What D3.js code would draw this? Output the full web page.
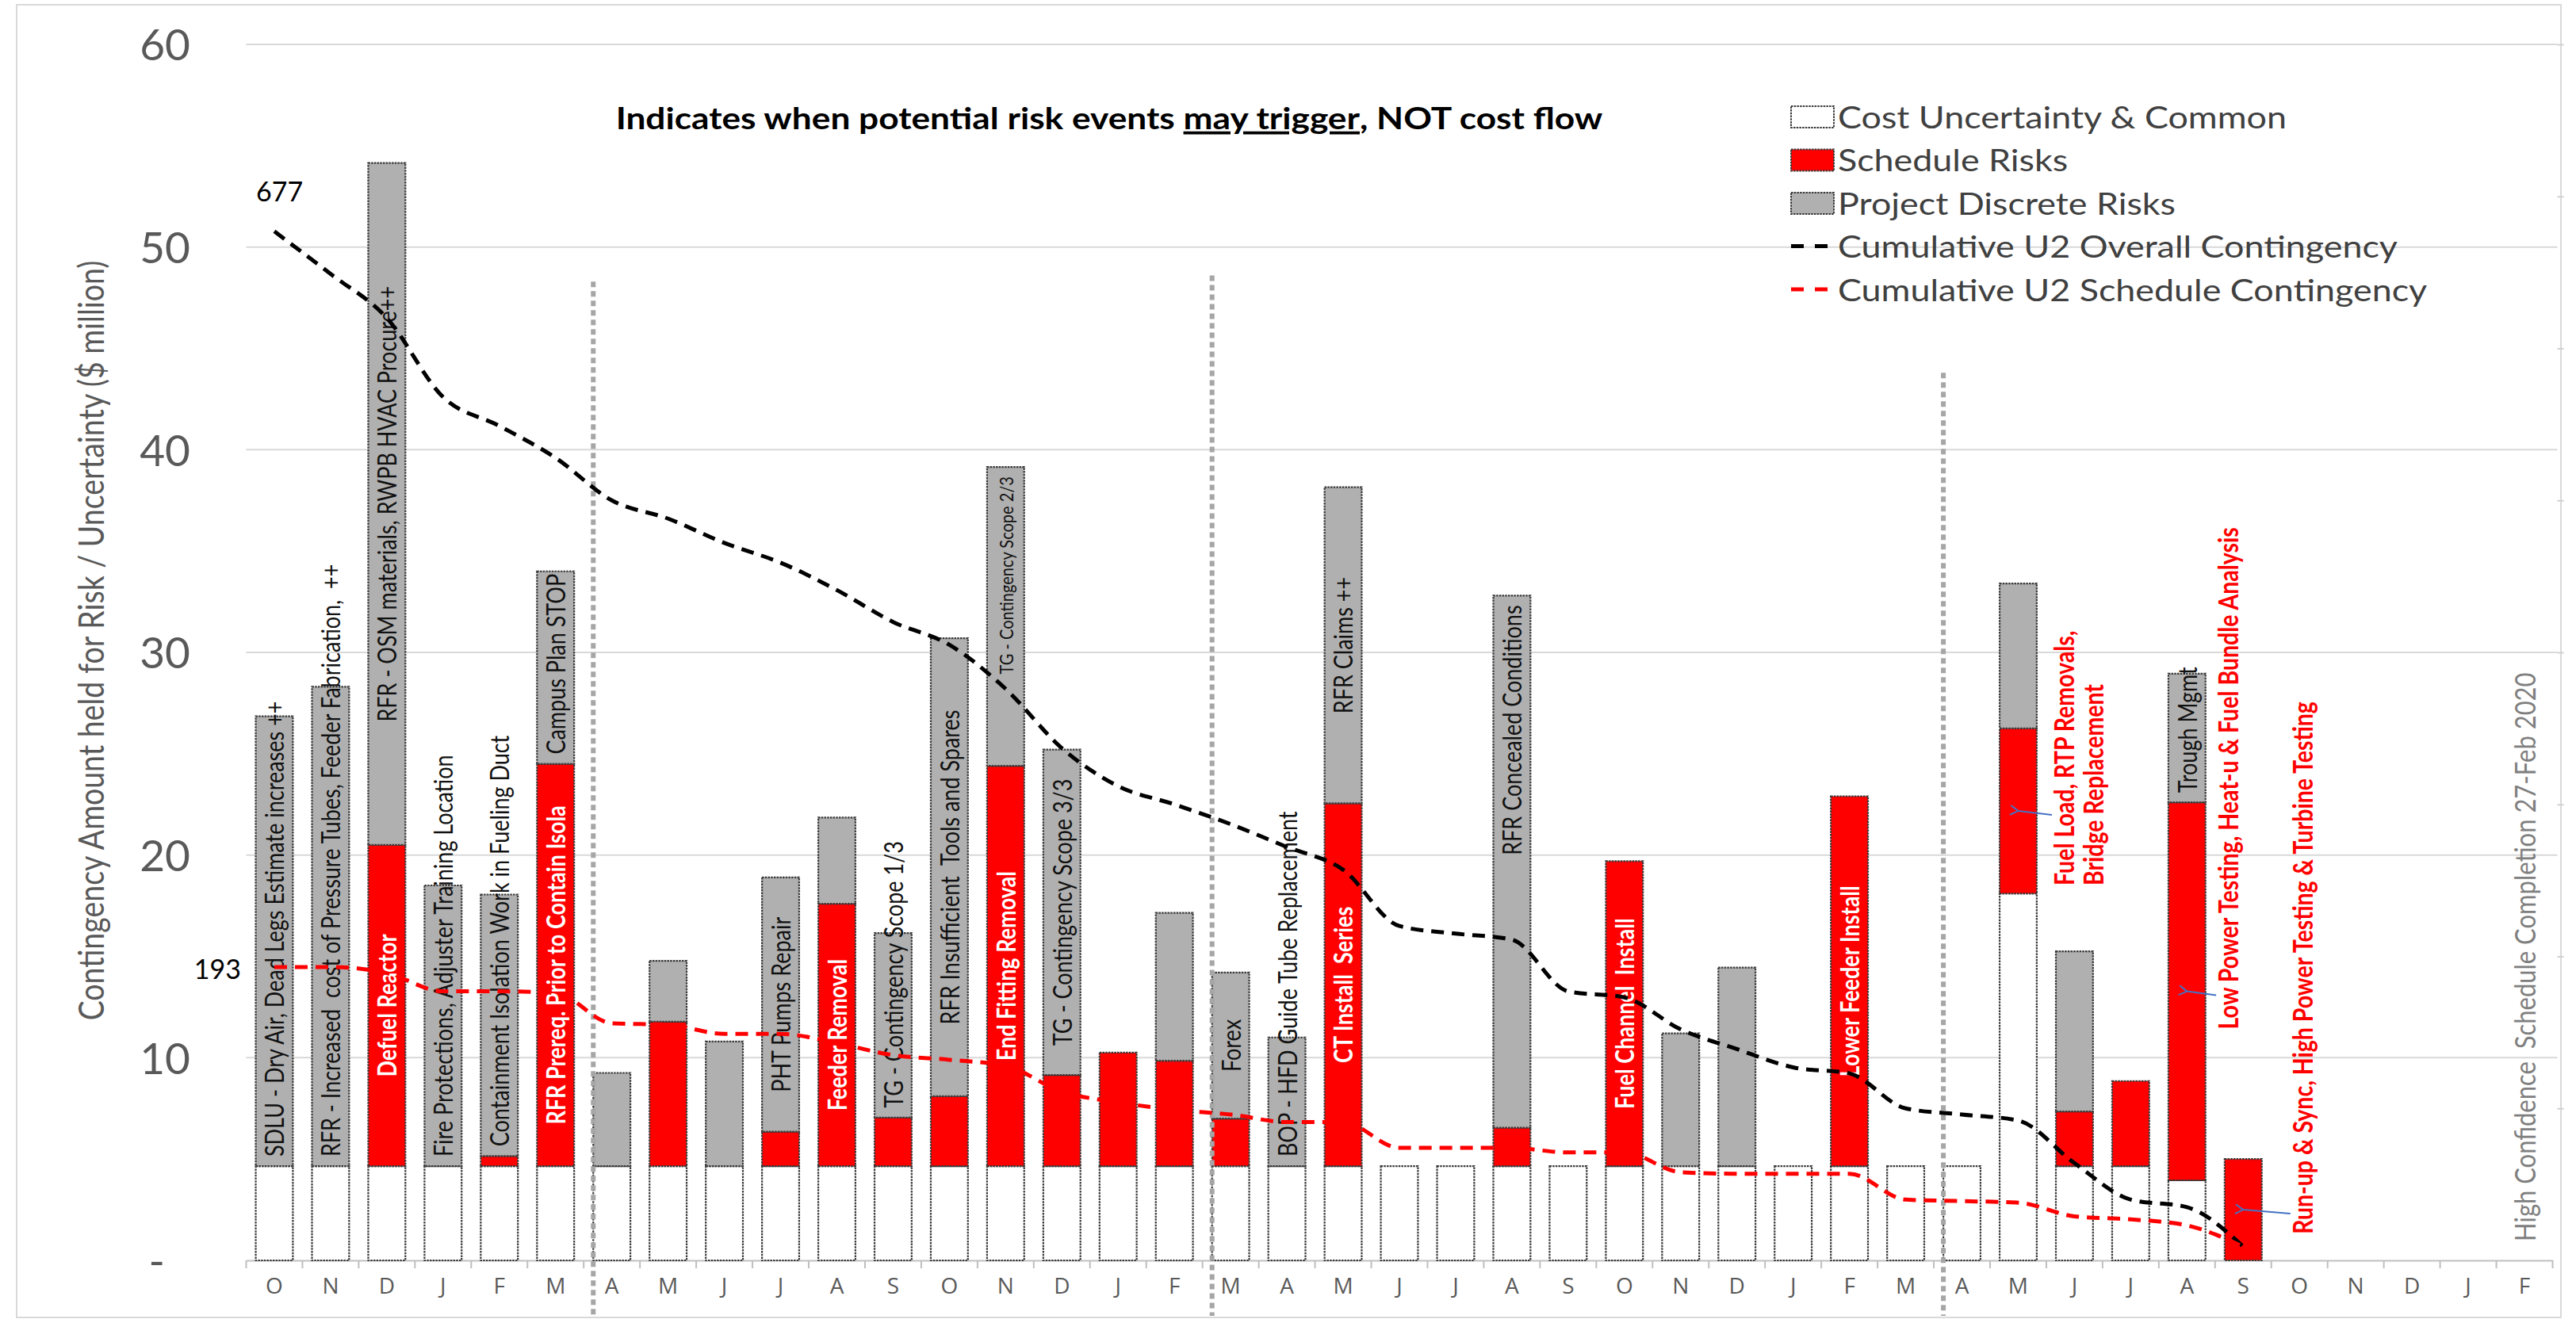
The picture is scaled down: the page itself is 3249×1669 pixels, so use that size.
<!DOCTYPE html>
<html>
<head>
<meta charset="utf-8">
<script src="https://cdn.jsdelivr.net/npm/d3@7"></script>
<style>
  html, body { margin: 0; padding: 0; background: #ffffff; }
  svg text { white-space: pre; }
</style>
</head>
<body>
<svg id="chart"></svg>
<script>
// ---- data -------------------------------------------------------------
// Month initials along the schedule (Oct through the following Feb, 41 months)
const months = ["O","N","D","J","F","M","A","M","J","J","A","S","O","N","D","J","F","M",
                "A","M","J","J","A","S","O","N","D","J","F","M","A","M","J","J","A","S",
                "O","N","D","J","F"];

// Monthly contingency by bucket ($ million)
const costUncertainty = [4.65,4.65,4.65,4.65,4.65,4.65,4.65,4.65,4.65,4.65,4.65,4.65,4.65,4.65,
                         4.65,4.65,4.65,4.65,4.65,4.65,4.65,4.65,4.65,4.65,4.65,4.65,4.65,4.65,
                         4.65,4.65,4.65,18.1,4.65,4.65,3.95,0,0,0,0,0,0];
const scheduleRisks   = [0,0,15.85,0,0.5,19.85,0,7.13,0,1.7,12.95,2.4,3.45,19.75,4.5,5.6,5.2,
                         2.35,0,17.9,0,0,1.9,0,15.05,0,0,0,18.25,0,0,8.15,2.7,4.2,18.65,5.0,
                         0,0,0,0,0];
const discreteRisks   = [22.2,23.65,33.65,13.85,12.9,9.5,4.6,3.0,6.15,12.55,4.25,9.1,22.6,14.75,
                         16.05,0,7.3,7.2,6.35,15.6,0,0,26.25,0,0,6.55,9.8,0,0,0,0,7.15,7.9,0,
                         6.35,0,0,0,0,0,0];

// Cumulative remaining contingency (secondary scale, $ million)
const overallContingency  = [677,649,620,568,549,528,500,488,472,459,441,420,405,376,337,312,
                             300,287,272,257,220,215,211,177,173,152,139,127,123,100,96,92,64,
                             40,35,9];
const scheduleContingency = [193,193,189,177,177,176,156,155,149,149,143,135,132,128,111,104,
                             99,96,91,91,74,74,74,71,71,58,57,57,57,40,39,38,29,27,23,9];

const yTicks  = [0,10,20,30,40,50,60];
const y2Ticks = [100,200,300,400,500,600,700,800];

// Risk descriptions written inside the bars: [month index, bucket, text, tone]
const barNotes = [
  [0,  "discrete", "SDLU - Dry Air, Dead Legs Estimate increases ++", "dark"],
  [1,  "discrete", "RFR - Increased  cost of Pressure Tubes, Feeder Fabrication,  ++", "dark"],
  [2,  "schedule", "Defuel Reactor", "light"],
  [2,  "discrete", "RFR - OSM materials, RWPB HVAC Procure++", "dark"],
  [3,  "discrete", "Fire Protections, Adjuster Training Location", "dark"],
  [4,  "discrete", "Containment Isolation Work in Fueling Duct", "dark"],
  [5,  "schedule", "RFR Prereq. Prior to Contain Isola", "light"],
  [5,  "discrete", "Campus Plan STOP", "dark"],
  [9,  "discrete", "PHT Pumps Repair", "dark"],
  [10, "schedule", "Feeder Removal", "light"],
  [11, "discrete", "TG - Contingency Scope 1/3", "dark"],
  [12, "discrete", "RFR Insufficient  Tools and Spares", "dark"],
  [13, "schedule", "End Fitting Removal", "light"],
  [13, "discrete", "TG - Contingency Scope 2/3", "small"],
  [14, "discrete", "TG - Contingency Scope 3/3", "dark"],
  [17, "discrete", "Forex", "dark"],
  [18, "discrete", "BOP - HFD Guide Tube Replacement", "dark"],
  [19, "schedule", "CT Install  Series", "light"],
  [19, "discrete", "RFR Claims ++", "dark"],
  [22, "discrete", "RFR Concealed Conditions", "dark"],
  [24, "schedule", "Fuel Channel  Install", "light"],
  [28, "schedule", "Lower Feeder Install", "light"],
  [34, "discrete", "Trough Mgmt", "dark"]
];

// Red call-outs beside the commissioning bars
const callouts = [
  { month: 31, lines: ["Fuel Load, RTP Removals,", "Bridge Replacement"], from: 18.5, shift: 0.81 },
  { month: 34, lines: ["Low Power Testing, Heat-u & Fuel Bundle Analysis"], from: 11.4, shift: 0.73 },
  { month: 35, lines: ["Run-up & Sync, High Power Testing & Turbine Testing"], from: 1.3, shift: 1.05 }
];

// Phase separators: drawn just before these months, up to the given height
const phaseBreaks = [ { before: 6, top: 48.3 }, { before: 17, top: 48.6 }, { before: 30, top: 43.8 } ];

const legendItems = [
  { label: "Cost Uncertainty & Common", type: "box", fill: "#ffffff" },
  { label: "Schedule Risks", type: "box", fill: "#ff0000" },
  { label: "Project Discrete Risks", type: "box", fill: "#b0b0b0" },
  { label: "Cumulative U2 Overall Contingency", type: "line", stroke: "#000000" },
  { label: "Cumulative U2 Schedule Contingency", type: "line", stroke: "#ff0000" }
];

// ---- layout -----------------------------------------------------------
const W = 3249, H = 1669;
const SANS = "Lato, 'Noto Sans', sans-serif";
const WIDE = "'Open Sans', 'DejaVu Sans', sans-serif";
const GRAY_TEXT = "#595959";
const FILL = { cost: "#ffffff", schedule: "#ff0000", discrete: "#b0b0b0" };
const STRETCH = 1.18;   // the whole chart is drawn slightly widened

const svg = d3.select("#chart").attr("width", W).attr("height", H)
  .style("display", "block").style("background", "#fff");

const plot = { left: 310.5, right: 3219.5, top: 56, bottom: 1590 };

const x = d3.scaleBand().domain(d3.range(months.length))
  .range([plot.left, plot.right]).paddingInner(0.34).paddingOuter(0.17);
const y = d3.scaleLinear().domain([0, 60]).range([plot.bottom, plot.top]);
const y2 = d3.scaleLinear().domain([0, 800]).range([plot.bottom, plot.top]);
const cx = i => x(i) + x.bandwidth() / 2;
const step = x.step();
const boundary = i => plot.left + step * i;

// vertical text helper: reads bottom-to-top, glyphs widened like the rest of the chart
const vertical = (px, py) => `translate(${px},${py}) rotate(-90) scale(1,${STRETCH})`;

// chart frame
svg.append("rect").attr("x", 21).attr("y", 6).attr("width", 3209).attr("height", 1656)
  .attr("fill", "none").attr("stroke", "#d9d9d9").attr("stroke-width", 2);

// gridlines
svg.append("g").selectAll("line").data(yTicks.filter(t => t > 0)).join("line")
  .attr("x1", plot.left).attr("x2", plot.right + 6)
  .attr("y1", d => y(d)).attr("y2", d => y(d))
  .attr("stroke", "#d9d9d9").attr("stroke-width", 2);

// y axis labels (accounting style: zero shows as a dash)
const yAxis = d3.axisLeft(y).tickValues(yTicks).tickSize(0).tickPadding(0)
  .tickFormat(d => d === 0 ? "-" : d3.format("d")(d));
const ya = svg.append("g").attr("transform", `translate(240,0)`).call(yAxis);
ya.select(".domain").remove();
ya.selectAll("text").attr("font-family", SANS).attr("font-size", 55)
  .attr("fill", GRAY_TEXT).attr("dy", "0.36em")
  .attr("dx", d => d === 0 ? -32 : 0);

// secondary axis: tick marks only
const y2Axis = d3.axisRight(y2).tickValues(y2Ticks).tickSize(8).tickFormat("");
const y2a = svg.append("g").attr("transform", `translate(${plot.right + 6},0)`).call(y2Axis);
y2a.select(".domain").remove();
y2a.selectAll("line").attr("stroke", "#d0d0d0").attr("stroke-width", 2);

// x axis
const xAxis = d3.axisBottom(x).tickFormat(i => months[i]).tickSize(0).tickPadding(22);
const xa = svg.append("g").attr("transform", `translate(0,${plot.bottom})`).call(xAxis);
xa.select(".domain").attr("stroke", "#bfbfbf").attr("stroke-width", 2);
xa.selectAll("text").attr("font-family", WIDE).attr("font-size", 28).attr("fill", GRAY_TEXT);
svg.append("g").selectAll("line").data(d3.range(months.length + 1)).join("line")
  .attr("x1", d => boundary(d)).attr("x2", d => boundary(d))
  .attr("y1", plot.bottom).attr("y2", plot.bottom + 10)
  .attr("stroke", "#bfbfbf").attr("stroke-width", 2);

// y axis title
svg.append("text")
  .attr("transform", vertical(114, 808))
  .attr("text-anchor", "middle").attr("dominant-baseline", "central")
  .attr("font-family", SANS).attr("font-size", 37.5).attr("fill", GRAY_TEXT)
  .text("Contingency Amount held for Risk / Uncertainty ($ million)");

// ---- stacked bars -------------------------------------------------------
const rows = months.map((m, i) => ({
  i, cost: costUncertainty[i], schedule: scheduleRisks[i], discrete: discreteRisks[i]
}));
const series = d3.stack().keys(["cost", "schedule", "discrete"])(rows);
const segOf = {};
series.forEach(s => { segOf[s.key] = s; });

const barG = svg.append("g");
series.forEach(s => {
  barG.append("g").selectAll("rect")
    .data(s.filter(d => d[1] - d[0] > 0))
    .join("rect")
    .attr("x", d => x(d.data.i))
    .attr("width", x.bandwidth())
    .attr("y", d => y(d[1]))
    .attr("height", d => y(d[0]) - y(d[1]))
    .attr("fill", FILL[s.key])
    .attr("stroke", "#3a3a3a").attr("stroke-width", 2.2)
    .attr("stroke-dasharray", "2.5,1.2");
});

// ---- phase separators ---------------------------------------------------
svg.append("g").selectAll("line").data(phaseBreaks).join("line")
  .attr("x1", d => boundary(d.before) + step * 0.17)
  .attr("x2", d => boundary(d.before) + step * 0.17)
  .attr("y1", d => y(d.top)).attr("y2", 1660)
  .attr("stroke", "#a6a6a6").attr("stroke-width", 6).attr("stroke-dasharray", "7,5");

// ---- text inside bars ------------------------------------------------------
const tone = {
  dark:  { fill: "#111111", weight: 400, size: 27 },
  light: { fill: "#ffffff", weight: 700, size: 27 },
  small: { fill: "#111111", weight: 400, size: 20 }
};
// notes pinned to the top of their segment rather than centred
const pinnedTop = new Set(["RFR Concealed Conditions", "TG - Contingency Scope 2/3"]);
const noteG = svg.append("g");
barNotes.forEach(([i, key, text, t]) => {
  const st = tone[t];
  const seg = segOf[key][i];
  const yb = y(seg[0]), yt = y(seg[1]);
  const el = noteG.append("text")
    .attr("font-family", SANS).attr("font-size", st.size).attr("font-weight", st.weight)
    .attr("fill", st.fill).attr("dominant-baseline", "central").text(text);
  const len = el.node().getComputedTextLength();
  const pad = 12;
  if (pinnedTop.has(text)) {
    el.attr("text-anchor", "end").attr("transform", vertical(cx(i), yt + pad));
  } else if (len + 2 * pad <= yb - yt) {
    el.attr("text-anchor", "middle").attr("transform", vertical(cx(i), (yb + yt) / 2));
  } else {
    el.attr("text-anchor", "start").attr("transform", vertical(cx(i), yb - pad));
  }
});

// ---- cumulative contingency lines --------------------------------------------
const line = d3.line().x((d, i) => cx(i)).y(d => y2(d)).curve(d3.curveMonotoneX);
svg.append("path").datum(overallContingency).attr("d", line)
  .attr("fill", "none").attr("stroke", "#000").attr("stroke-width", 5)
  .attr("stroke-dasharray", "16,10");
svg.append("path").datum(scheduleContingency).attr("d", line)
  .attr("fill", "none").attr("stroke", "#ff0000").attr("stroke-width", 5)
  .attr("stroke-dasharray", "16,10");

// starting values of both lines
svg.append("text").attr("x", cx(0) - 23).attr("y", y2(overallContingency[0]) - 38)
  .attr("font-family", SANS).attr("font-size", 34).attr("fill", "#000")
  .text(overallContingency[0]);
svg.append("text").attr("x", cx(0) - 42).attr("y", y2(scheduleContingency[0]) + 2)
  .attr("text-anchor", "end").attr("dominant-baseline", "central")
  .attr("font-family", SANS).attr("font-size", 34).attr("fill", "#000")
  .text(scheduleContingency[0]);

// ---- red call-outs with arrows ---------------------------------------------------
const defs = svg.append("defs");
defs.append("marker").attr("id", "arrowHead").attr("viewBox", "-2 -8 14 16")
  .attr("refX", 0).attr("refY", 0).attr("markerWidth", 14).attr("markerHeight", 16)
  .attr("markerUnits", "userSpaceOnUse").attr("orient", "auto-start-reverse")
  .append("path").attr("d", "M10,-6 L0,0 L10,6").attr("fill", "none")
  .attr("stroke", "#4472c4").attr("stroke-width", 2);

const calloutG = svg.append("g");
callouts.forEach(c => {
  const tx = cx(c.month) + step * c.shift;
  c.lines.forEach((ln, k) => {
    calloutG.append("text")
      .attr("transform", vertical(tx + k * 37, y(c.from)))
      .attr("dominant-baseline", "central")
      .attr("font-family", SANS).attr("font-size", 28.5).attr("font-weight", 700)
      .attr("fill", "#ff0000").text(ln);
  });
  const seg = [segOf.cost[c.month][1], segOf.schedule[c.month][1]];
  const target = y((seg[0] + seg[1]) / 2);
  calloutG.append("line")
    .attr("x1", tx - 15).attr("y1", target + 5)
    .attr("x2", cx(c.month)).attr("y2", target)
    .attr("stroke", "#4472c4").attr("stroke-width", 2)
    .attr("marker-end", "url(#arrowHead)");
});

// footnote
svg.append("text")
  .attr("transform", vertical(cx(40), y(0.94)))
  .attr("dominant-baseline", "central")
  .attr("font-family", SANS).attr("font-size", 31).attr("fill", "#7f7f7f")
  .text("High Confidence  Schedule Completion 27-Feb 2020");

// ---- title -------------------------------------------------------------
const title = svg.append("text").attr("transform", `translate(1399,163) scale(${STRETCH},1)`)
  .attr("text-anchor", "middle")
  .attr("font-family", SANS).attr("font-size", 37.5).attr("font-weight", 700).attr("fill", "#000");
title.append("tspan").text("Indicates when potential risk events ");
title.append("tspan").style("text-decoration", "underline").text("may trigger");
title.append("tspan").text(", NOT cost flow");

// ---- legend ------------------------------------------------------------
const lg = svg.append("g").attr("transform", "translate(2259,147)");
legendItems.forEach((d, k) => {
  const row = lg.append("g").attr("transform", `translate(0,${k * 54.5})`);
  if (d.type === "box") {
    row.append("rect").attr("x", 0).attr("y", -13).attr("width", 54).attr("height", 27)
      .attr("fill", d.fill).attr("stroke", "#3a3a3a").attr("stroke-width", 2)
      .attr("stroke-dasharray", "2.5,1.2");
  } else {
    row.append("line").attr("x1", 0).attr("x2", 52).attr("y1", 0).attr("y2", 0)
      .attr("stroke", d.stroke).attr("stroke-width", 5).attr("stroke-dasharray", "16,14");
  }
  row.append("text").attr("transform", `translate(59,0) scale(${STRETCH},1)`)
    .attr("dominant-baseline", "central")
    .attr("font-family", SANS).attr("font-size", 38).attr("fill", "#404040").text(d.label);
});
</script>
</body>
</html>
